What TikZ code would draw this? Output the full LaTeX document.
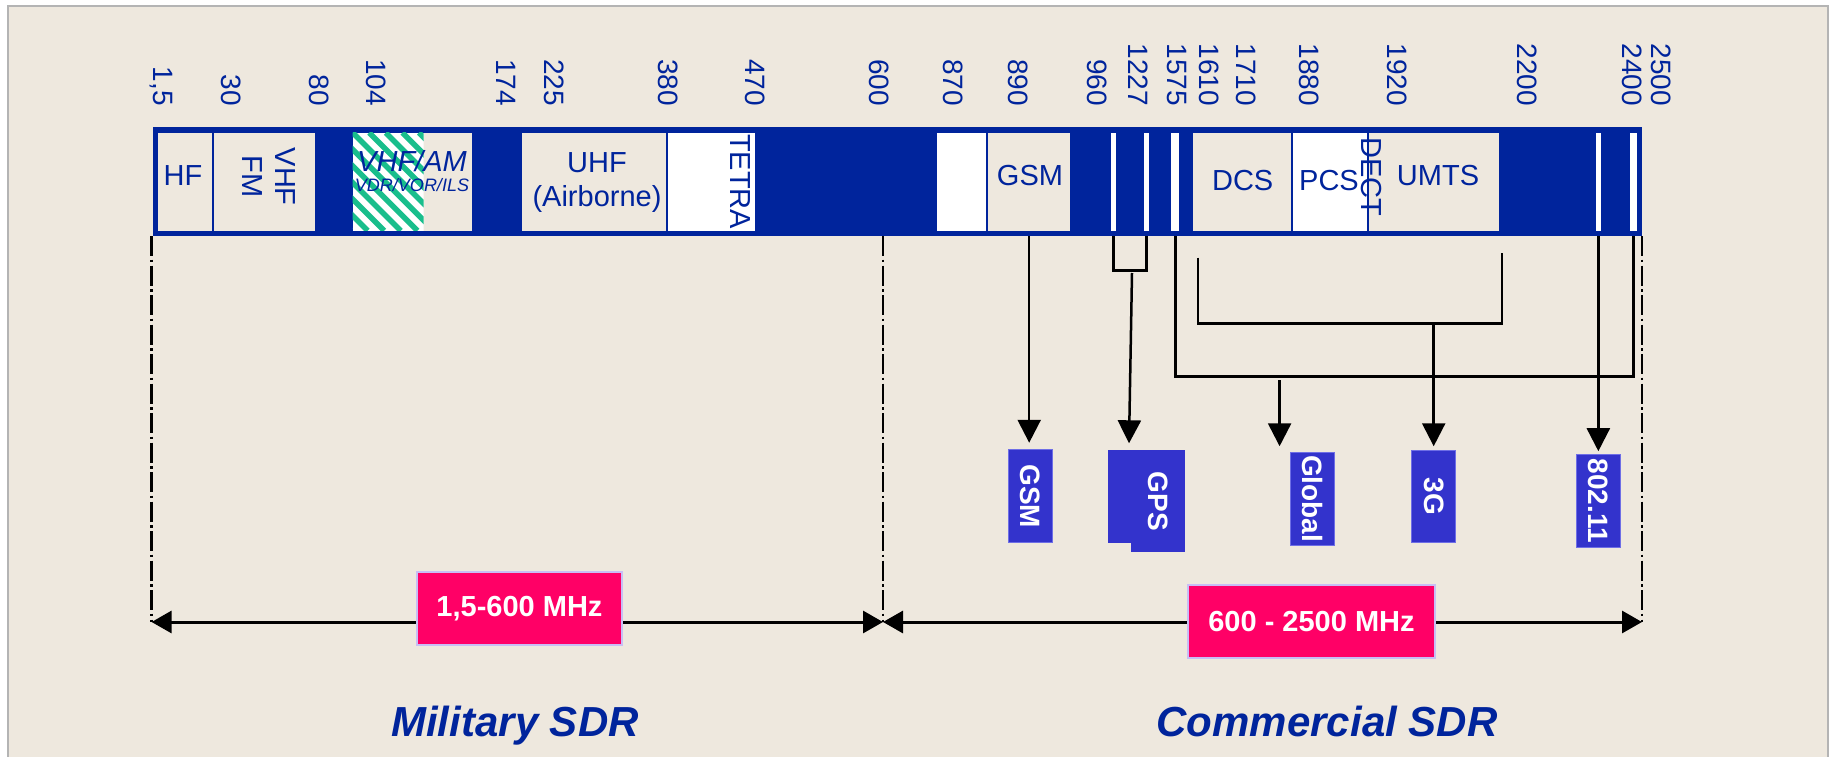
\documentclass[tikz,border=0pt]{standalone}
\usepackage{fontspec}
\setmainfont{Liberation Sans}
\usetikzlibrary{arrows.meta}
\definecolor{barblue}{RGB}{0,36,156}
\definecolor{paper}{RGB}{238,232,222}
\definecolor{framegray}{RGB}{180,180,180}
\definecolor{boxblue}{RGB}{51,51,204}
\definecolor{boxedge}{RGB}{110,110,230}
\definecolor{rangepink}{RGB}{255,0,102}
\definecolor{pinkedge}{RGB}{200,190,245}
\definecolor{hatchgreen}{RGB}{25,190,140}
\begin{document}
\begin{tikzpicture}[x=1pt, y=-1pt,
  tick/.style={rotate=-90, anchor=east, inner sep=0pt, text=barblue, font=\fontsize{28}{30}\selectfont},
  band/.style={inner sep=0pt, minimum height=98pt, draw=none},
  bandtext/.style={inner sep=0pt, text=barblue, font=\fontsize{29}{33}\selectfont, align=center},
  sdrbox/.style={rotate=-90, fill=boxblue, draw=boxedge, line width=1pt, inner sep=0pt, text=white,
                 font=\bfseries\fontsize{28}{30}\selectfont, minimum height=44pt},
  conn/.style={line width=2.5pt, black},
  feed/.style={conn, -{Triangle[length=23pt,width=23pt]}},
  dimline/.style={line width=2.5pt, dash pattern=on 20pt off 3.5pt on 2.5pt off 3.5pt},
  dimarrow/.style={line width=3pt, {Triangle[length=20pt,width=22pt]}-{Triangle[length=20pt,width=22pt]}},
  rangebox/.style={fill=rangepink, draw=pinkedge, line width=2pt, text=white,
                   font=\bfseries\fontsize{29}{32}\selectfont, minimum height=73pt, inner sep=0pt},
  sdrtitle/.style={anchor=base, inner sep=0pt, text=barblue, font=\bfseries\itshape\fontsize{42}{48}\selectfont}
]
\useasboundingbox (0,0) rectangle (1829,757);

% page and frame
\fill[white] (0,0) rectangle (1829,757);
\fill[paper] (7.5,6) rectangle (1827.5,757);
\draw[framegray, line width=2pt] (7.5,757) -- (7.5,6) -- (1827.5,6) -- (1827.5,757);

% frequency bar
\node[fill=barblue, inner sep=0pt, minimum width=1488.9pt, minimum height=108.7pt] (bar) at (897.25,181.65) {};

\node[band, fill=paper, minimum width=53.5pt]  (hf)     at (184.95,181.7) {};
\node[band, fill=paper, minimum width=100.3pt] (vhffm)  at (264.35,181.7) {};
\node[band, fill=paper, minimum width=119.8pt] (vhfam)  at (412.5,181.7) {};
\node[band, fill=paper, minimum width=144.3pt] (uhf)    at (593.85,181.7) {};
\node[band, fill=white, minimum width=86.7pt]  (tetra)  at (711.35,181.7) {};
\node[band, fill=white, minimum width=49pt]    (b870)   at (961.5,181.7) {};
\node[band, fill=paper, minimum width=82.4pt]  (gsmband) at (1029.2,181.7) {};
\node[band, fill=white, minimum width=5.2pt]   (s960)   at (1113.4,181.7) {};
\node[band, fill=white, minimum width=5.3pt]   (s1227)  at (1146.65,181.7) {};
\node[band, fill=white, minimum width=7.7pt]   (s1575)  at (1175.25,181.7) {};
\node[band, fill=paper, minimum width=97.5pt]  (dcs)    at (1241.95,181.7) {};
\node[band, fill=white, minimum width=74.6pt]  (pcs)    at (1330,181.7) {};
\node[band, fill=paper, minimum width=130.3pt] (umts)   at (1434.15,181.7) {};
\node[band, fill=white, minimum width=4.7pt]   (s2400a) at (1598.35,181.7) {};
\node[band, fill=white, minimum width=6.7pt]   (s2400b) at (1633.35,181.7) {};

% striped part of the VHF/AM band
\begin{scope}
  \clip (352.6,132.7) rectangle (423.5,230.7);
  \fill[white] (352.6,132.7) rectangle (423.5,230.7);
  \foreach \k in {-7,...,5}
    \draw[hatchgreen, line width=5.5pt] ({352.6+\k*16.6},132.7) -- ++(98,98);
\end{scope}

% band names
\node[bandtext] (hftext) at (183,176) {HF};
\node[bandtext, rotate=-90] (vhffmtext) at (269,176.7) {VHF\\FM};
\node[bandtext, font=\itshape\fontsize{29}{32}\selectfont] (vhfamtext) at (412,161) {VHF/AM};
\node[bandtext, font=\itshape\fontsize{18}{20}\selectfont] (navtext) at (412,185.5) {VDR/VOR/ILS};
\node[bandtext, font=\fontsize{29}{34}\selectfont] (uhftext) at (597,183) {UHF\\(Airborne)};
\node[bandtext, rotate=-90] (tetratext) at (740.5,181.7) {TETRA};
\node[bandtext] (gsmtext) at (1030,176) {GSM};
\node[bandtext] (dcstext) at (1242.7,181) {DCS};
\node[bandtext] (pcstext) at (1329,181) {PCS};
\node[bandtext, rotate=-90] (decttext) at (1371.7,176.7) {DECT};
\node[bandtext] (umtstext) at (1438,176) {UMTS};

% frequency marks (MHz)
\node[tick] (tick-0) at (161,106) {1,5};
\foreach \x/\t [count=\i] in {231.5/30, 319.5/80, 375.7/104, 506/174, 554/225, 668/380, 755/470,
    879.6/600, 953/870, 1018/890, 1096.7/960, 1138.6/1227, 1177/1575, 1209/1610, 1245.7/1710,
    1309/1880, 1397.5/1920, 1527/2200, 1632/2400, 1661/2500}
  \node[tick] (tick-\i) at (\x,106) {\t};

% range limits
\coordinate (milL) at (151.6,622);
\coordinate (midR) at (883,622);
\coordinate (comR) at (1642,622);
\draw[dimline] (milL |- bar.south) -- (milL);
\draw[dimline] (midR |- bar.south) -- (midR);
\draw[dimline] (comR |- bar.south) -- (comR);
\draw[dimarrow] (milL) -- (midR);
\draw[dimarrow] (midR) -- (comR);

% standard boxes
\node[sdrbox, minimum width=92.7pt] (gsmbox) at (1030.5,496.3) {GSM};
\fill[boxblue] (1108.3,450) rectangle (1151.7,543.3);
\node[sdrbox, draw=none, minimum width=102.3pt, minimum height=54pt] (gpsbox) at (1158,501.2) {GPS};
\node[sdrbox, minimum width=92.7pt] (globalbox) at (1312.3,498.7) {Global};
\node[sdrbox, minimum width=92.3pt] (threegbox) at (1433.7,496.2) {3G};
\node[sdrbox, minimum width=93pt] (wifibox) at (1598.2,500.8) {802.11};

% band to standard connections
\draw[feed, shorten >=6.7pt] (gsmband.south |- bar.south) -- (gsmband.south |- gsmbox.west);

\coordinate (gpsfoot) at (0,270.7);
\draw[conn] (s960.south |- bar.south) -- (s960.south |- gpsfoot) -- (s1227.south |- gpsfoot) -- (s1227.south |- bar.south);
\coordinate (gpsstart) at (1132,273);
\coordinate (gpsend) at (1129,443.3);
\draw[feed] (gpsstart) -- (gpsend);

\coordinate (umbL) at (1198,257.7);
\coordinate (umbR) at (1502,252.7);
\coordinate (umbfoot) at (0,323.3);
\draw[conn] (umbL) -- (umbL |- umbfoot) -- (umbR |- umbfoot) -- (umbR);
\draw[feed, shorten >=3.3pt] (threegbox.west |- umbfoot) -- (threegbox.west);

\coordinate (globfoot) at (0,376.7);
\draw[conn] (s1575.south |- bar.south) -- (s1575.south |- globfoot) -- (s2400b.south |- globfoot) -- (s2400b.south |- bar.south);
\coordinate (globtap) at (1279.6,380);
\draw[feed, shorten >=5.6pt] (globtap) -- (globtap |- globalbox.west);

\draw[feed, shorten >=2.6pt] (s2400a.south |- bar.south) -- (s2400a.south |- wifibox.west);

% range labels
\node[rangebox, minimum width=205.6pt] (milrange) at (519.5,608.3) {1,5-600 MHz};
\node[rangebox, minimum width=246.4pt] (comrange) at (1311.5,621.7) {600 - 2500 MHz};

% titles
\node[sdrtitle] (miltitle) at (515,736.7) {Military SDR};
\node[sdrtitle] (comtitle) at (1327,736.7) {Commercial SDR};
\end{tikzpicture}
\end{document}
